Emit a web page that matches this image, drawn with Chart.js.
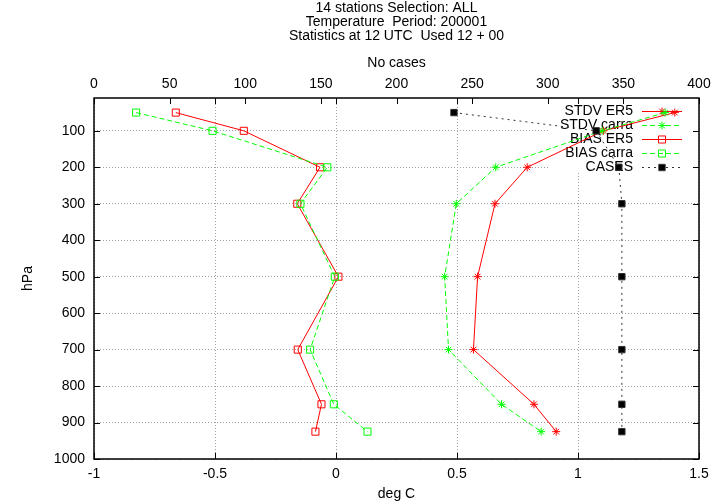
<!DOCTYPE html>
<html>
<head>
<meta charset="utf-8">
<script src="https://cdn.jsdelivr.net/npm/chart.js@4/dist/chart.umd.min.js"></script>
<style>
html, body { margin: 0; padding: 0; background: #fff; }
#wrap { width: 720px; height: 504px; }
</style>
</head>
<body>
<div id="wrap"><canvas id="chart" width="720" height="504"></canvas></div>
<script>
// pressure levels (hPa) and the statistics per level
var levels = [50, 100, 200, 300, 500, 700, 850, 925];
var stdv_er5 = [1.40, 1.105, 0.79, 0.657, 0.585, 0.568, 0.818, 0.91];
var stdv_carra = [1.36, 1.10, 0.66, 0.497, 0.449, 0.465, 0.684, 0.848];
var bias_er5 = [-0.662, -0.381, -0.066, -0.16, 0.01, -0.158, -0.06, -0.085];
var bias_carra = [-0.826, -0.51, -0.036, -0.147, -0.005, -0.107, -0.009, 0.13];
var cases = [238, 332, 347, 349, 349, 349, 349, 349];

var xTicks = [-1, -0.5, 0, 0.5, 1, 1.5];
var x2Ticks = [0, 50, 100, 150, 200, 250, 300, 350, 400];
var yTicks = [100, 200, 300, 400, 500, 600, 700, 800, 900, 1000];

var titleLines = ['14 stations Selection: ALL', 'Temperature  Period: 200001', 'Statistics at 12 UTC  Used 12 + 00'];

var FONT = '"Liberation Sans", Arial, sans-serif';

var keyItems = [];

function pts(vals){
	return vals.map(function(v, i){ return {x: v, y: levels[i]}; });
}

function ds(label, vals, color, dash, style, radius, fill, axis, order){
	keyItems.push({label: label, color: color, dash: dash, style: style, radius: radius, fill: fill});
	return {
		label: label,
		data: pts(vals),
		xAxisID: axis,
		yAxisID: 'y',
		showLine: true,
		borderColor: color,
		borderWidth: 1,
		borderDash: dash,
		backgroundColor: fill,
		pointStyle: style,
		pointRadius: radius,
		pointBorderWidth: 1,
		pointBorderColor: color,
		pointBackgroundColor: fill,
		tension: 0,
		order: order
	};
}

var datasets = [
	ds('STDV ER5', stdv_er5, '#ff0000', [], 'star', 4, 'rgba(0,0,0,0)', 'x', 5),
	ds('STDV carra', stdv_carra, '#00ff00', [5, 3], 'star', 4, 'rgba(0,0,0,0)', 'x', 4),
	ds('BIAS ER5', bias_er5, '#ff0000', [], 'rect', 5, 'rgba(0,0,0,0)', 'x', 3),
	ds('BIAS carra', bias_carra, '#00ff00', [5, 3], 'rect', 5, 'rgba(0,0,0,0)', 'x', 2),
	ds('CASES', cases, '#333333', [2, 4], 'rect', 4.5, '#000000', 'x2', 1)
];

// gnuplot style frame, inward ticks, key and titles
var gnuFrame = {
	id: 'gnuFrame',
	beforeDatasetsDraw: function(chart){
		var ctx = chart.ctx, a = chart.chartArea;
		var sx = chart.scales.x, sx2 = chart.scales.x2, sy = chart.scales.y;
		ctx.save();
		// key area hides the grid
		ctx.fillStyle = '#ffffff';
		ctx.fillRect(549, a.top + 1, a.right - 550, 73);

		ctx.strokeStyle = '#000000';
		ctx.lineWidth = 1;
		ctx.setLineDash([]);
		ctx.beginPath();
		xTicks.forEach(function(v){
			var px = Math.round(sx.getPixelForValue(v)) + 0.5;
			ctx.moveTo(px, a.bottom); ctx.lineTo(px, a.bottom - 6);
			ctx.moveTo(px, a.top); ctx.lineTo(px, a.top + 6);
		});
		x2Ticks.forEach(function(v){
			var px = Math.round(sx2.getPixelForValue(v)) + 0.5;
			ctx.moveTo(px, a.top); ctx.lineTo(px, a.top + 6);
		});
		yTicks.forEach(function(v){
			var py = Math.round(sy.getPixelForValue(v)) + 0.5;
			ctx.moveTo(a.left, py); ctx.lineTo(a.left + 6, py);
			ctx.moveTo(a.right, py); ctx.lineTo(a.right - 6, py);
		});
		ctx.stroke();
		ctx.lineWidth = 1.5;
		ctx.strokeRect(a.left, a.top, a.right - a.left, a.bottom - a.top);

		// key
		ctx.font = '14px ' + FONT;
		ctx.textBaseline = 'middle';
		ctx.textAlign = 'right';
		keyItems.forEach(function(k, i){
			var y = 111 + i * 14;
			ctx.fillStyle = '#000000';
			ctx.fillText(k.label, 633, y);
			ctx.lineWidth = 1;
			ctx.strokeStyle = k.color;
			ctx.setLineDash(k.dash);
			ctx.beginPath();
			ctx.moveTo(642, y + 0.5);
			ctx.lineTo(682, y + 0.5);
			ctx.stroke();
			ctx.setLineDash([]);
			ctx.fillStyle = k.fill;
			Chart.helpers.drawPoint(ctx, {pointStyle: k.style, radius: k.radius, rotation: 0, borderWidth: 1}, 662, y + 0.5);
		});

		// titles
		var cx = (a.left + a.right) / 2;
		ctx.textAlign = 'center';
		ctx.fillStyle = '#000000';
		titleLines.forEach(function(t, i){
			ctx.fillText(t, cx, 8 + i * 14);
		});
		ctx.fillText('No cases', cx, 63);
		ctx.fillText('deg C', cx, 494);
		ctx.translate(28, (a.top + a.bottom) / 2);
		ctx.rotate(-Math.PI / 2);
		ctx.fillText('hPa', 0, 0);
		ctx.restore();
	}
};

function fixTicks(list){
	return function(scale){
		scale.ticks = list.map(function(v){ return {value: v}; });
	};
}

var gridOpts = { color: '#a0a0a0', lineWidth: 1, drawTicks: false };
var tickFont = { family: FONT, size: 14 };
var plain = function(v){ return String(v); };

new Chart(document.getElementById('chart'), {
	type: 'scatter',
	data: { datasets: datasets },
	options: {
		responsive: false,
		animation: false,
		events: [],
		layout: { padding: { left: 0, right: 21, top: 0, bottom: 0 } },
		plugins: { legend: { display: false }, title: { display: false }, tooltip: { enabled: false } },
		scales: {
			x: {
				type: 'linear', position: 'bottom', min: -1, max: 1.5,
				afterBuildTicks: fixTicks(xTicks),
				afterFit: function(s){ s.height = 45; },
				grid: gridOpts,
				border: { display: false, dash: [1, 2] },
				ticks: { color: '#000', font: tickFont, padding: 7, maxRotation: 0, callback: plain }
			},
			x2: {
				type: 'linear', position: 'top', min: 0, max: 400,
				afterBuildTicks: fixTicks(x2Ticks),
				afterFit: function(s){ s.height = 98; },
				grid: { display: false, drawTicks: false },
				border: { display: false },
				ticks: { color: '#000', font: tickFont, padding: 5, maxRotation: 0, callback: plain }
			},
			y: {
				type: 'linear', position: 'left', min: 10, max: 1000, reverse: true,
				afterBuildTicks: fixTicks(yTicks),
				afterFit: function(s){ s.width = 94; },
				grid: gridOpts,
				border: { display: false, dash: [1, 2] },
				ticks: { color: '#000', font: tickFont, padding: 9, callback: plain }
			}
		}
	},
	plugins: [gnuFrame]
});
</script>
</body>
</html>
